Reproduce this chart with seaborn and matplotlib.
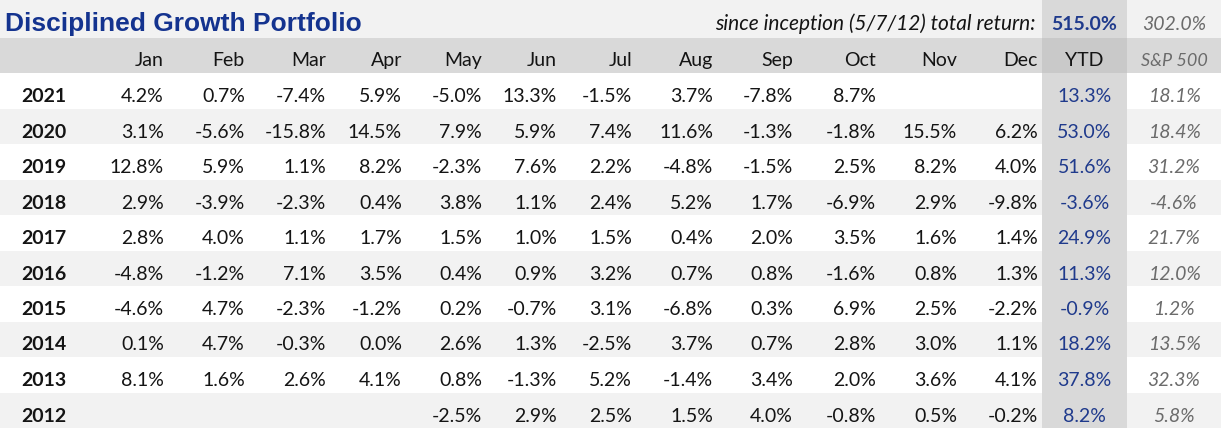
import numpy as np
import pandas as pd
import matplotlib
matplotlib.use("Agg")
import matplotlib.pyplot as plt
from matplotlib.colors import ListedColormap
import seaborn as sns

nan = np.nan

title = "Disciplined Growth Portfolio"
inception_label = "since inception (5/7/12) total return:"
inception_total = "515.0%"
inception_sp = "302.0%"

months = ["Jan", "Feb", "Mar", "Apr", "May", "Jun", "Jul", "Aug", "Sep", "Oct", "Nov", "Dec"]
years = [2021, 2020, 2019, 2018, 2017, 2016, 2015, 2014, 2013, 2012]

r2021 = [4.2, 0.7, -7.4, 5.9, -5.0, 13.3, -1.5, 3.7, -7.8, 8.7, nan, nan]
r2020 = [3.1, -5.6, -15.8, 14.5, 7.9, 5.9, 7.4, 11.6, -1.3, -1.8, 15.5, 6.2]
r2019 = [12.8, 5.9, 1.1, 8.2, -2.3, 7.6, 2.2, -4.8, -1.5, 2.5, 8.2, 4.0]
r2018 = [2.9, -3.9, -2.3, 0.4, 3.8, 1.1, 2.4, 5.2, 1.7, -6.9, 2.9, -9.8]
r2017 = [2.8, 4.0, 1.1, 1.7, 1.5, 1.0, 1.5, 0.4, 2.0, 3.5, 1.6, 1.4]
r2016 = [-4.8, -1.2, 7.1, 3.5, 0.4, 0.9, 3.2, 0.7, 0.8, -1.6, 0.8, 1.3]
r2015 = [-4.6, 4.7, -2.3, -1.2, 0.2, -0.7, 3.1, -6.8, 0.3, 6.9, 2.5, -2.2]
r2014 = [0.1, 4.7, -0.3, 0.0, 2.6, 1.3, -2.5, 3.7, 0.7, 2.8, 3.0, 1.1]
r2013 = [8.1, 1.6, 2.6, 4.1, 0.8, -1.3, 5.2, -1.4, 3.4, 2.0, 3.6, 4.1]
r2012 = [nan, nan, nan, nan, -2.5, 2.9, 2.5, 1.5, 4.0, -0.8, 0.5, -0.2]

ytd = [13.3, 53.0, 51.6, -3.6, 24.9, 11.3, -0.9, 18.2, 37.8, 8.2]
sp500 = [18.1, 18.4, 31.2, -4.6, 21.7, 12.0, 1.2, 13.5, 32.3, 5.8]

df = pd.DataFrame([r2021, r2020, r2019, r2018, r2017, r2016, r2015, r2014, r2013, r2012],
                  index=years, columns=months)
df["YTD"] = ytd
df["S&P 500"] = sp500

# layout (pixels)
W, H = 1221, 428
month_right = [164, 245, 326, 402, 482, 557, 632, 713, 793, 876, 957, 1038]
ytd_x = (1042, 1127)
row_edges = [0, 38, 73] + [73 + 35.5 * (k + 1) for k in range(len(years))]

sns.set_theme(style="white")
plt.rcParams["font.family"] = ["Lato", "DejaVu Sans"]

fig = plt.figure(figsize=(W / 100, H / 100), dpi=100)
ax = fig.add_axes([0, 0, 1, 1])
ax.set_xlim(0, W)
ax.set_ylim(H, 0)
ax.axis("off")

# background cells: 0 white, 1 light stripe, 2 grey, 3 dark grey
codes = [[1, 2, 1], [2, 3, 2]]
for i in range(len(years)):
    s = 0 if i % 2 == 0 else 1
    codes.append([s, 2, s])
cmap = ListedColormap(["#ffffff", "#f2f2f2", "#d9d9d9", "#c9c9c9"])
ax.pcolormesh([0, ytd_x[0], ytd_x[1], W], row_edges, np.array(codes), cmap=cmap,
              vmin=-0.5, vmax=3.5, shading="flat")

fs = 14
black = "#141414"
blue = "#1f3a8c"
grey = "#6b6b6b"
ytd_c = sum(ytd_x) / 2
sp_c = (ytd_x[1] + W) / 2

def base(r):
    return row_edges[r] + 29

# title row
ax.text(5, 31, title, fontsize=19, fontweight="bold", color="#14338f",
        family=["Liberation Sans", "DejaVu Sans"], va="baseline", ha="left")
ax.text(1036, 30, inception_label, fontsize=15, style="italic", color=black,
        ha="right", va="baseline")
ax.text(ytd_c, 30, inception_total, fontsize=fs, fontweight="bold", color=blue,
        ha="center", va="baseline")
ax.text(sp_c, 30, inception_sp, fontsize=fs, style="italic", color=grey,
        ha="center", va="baseline")

# header row
for m, xr in zip(months, month_right):
    ax.text(xr, base(1) - 1, m, fontsize=fs, color=black, ha="right", va="baseline")
ax.text(ytd_c, base(1) - 1, "YTD", fontsize=fs, color=black, ha="center", va="baseline")
ax.text(sp_c, base(1) - 1, "S&P 500", fontsize=fs - 1, style="italic", color=grey,
        ha="center", va="baseline")

# body
for i, yr in enumerate(df.index):
    yb = base(i + 2)
    ax.text(21, yb, str(yr), fontsize=fs, fontweight="bold", color=black, va="baseline")
    for m, xr in zip(months, month_right):
        v = df.loc[yr, m]
        if not np.isnan(v):
            ax.text(xr, yb, f"{v:.1f}%", fontsize=fs, color=black, ha="right", va="baseline")
    ax.text(ytd_c, yb, f"{df.loc[yr, 'YTD']:.1f}%", fontsize=fs, color=blue,
            ha="center", va="baseline")
    ax.text(sp_c, yb, f"{df.loc[yr, 'S&P 500']:.1f}%", fontsize=fs, style="italic",
            color=grey, ha="center", va="baseline")

fig.savefig("out.png", dpi=100)
